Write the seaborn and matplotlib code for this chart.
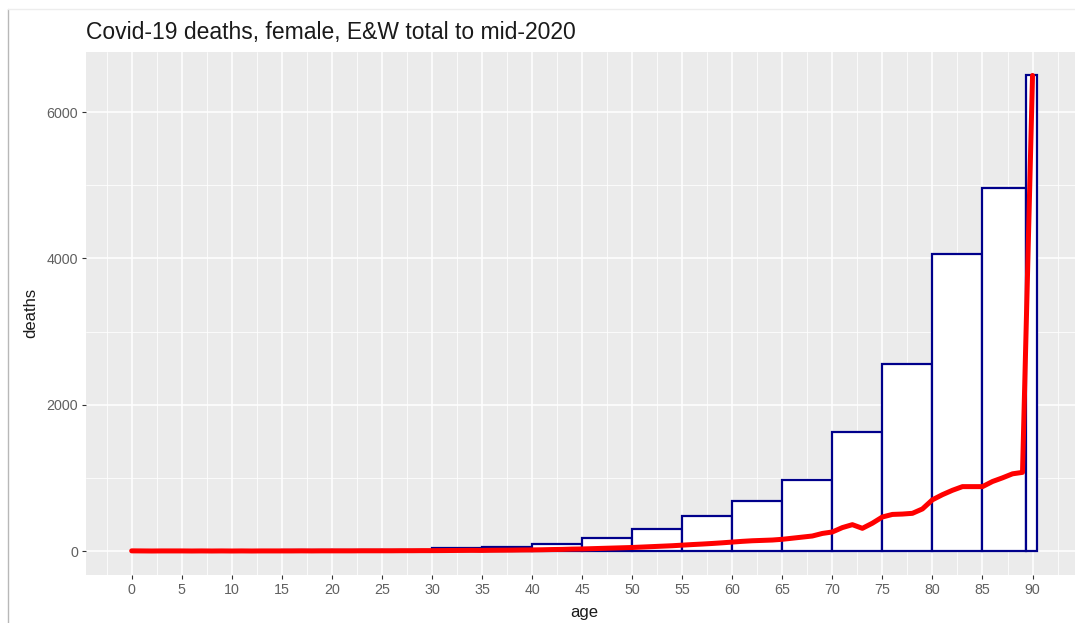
import numpy as np
import pandas as pd
import seaborn as sns
import matplotlib
matplotlib.use("Agg")
import matplotlib.pyplot as plt
from matplotlib.ticker import MultipleLocator
from matplotlib.lines import Line2D

# Covid-19 deaths of females in England & Wales by single year of age (90 = 90+)
ages = list(range(0, 91))
deaths = [
    2, 1, 0, 1, 1,            # 0-4
    1, 0, 1, 0, 1,            # 5-9
    0, 1, 0, 1, 1,            # 10-14
    1, 1, 2, 1, 2,            # 15-19
    2, 2, 2, 3, 3,            # 20-24
    3, 3, 4, 4, 5,            # 25-29
    5, 6, 7, 8, 9,            # 30-34
    8, 10, 11, 12, 14,        # 35-39
    15, 17, 20, 22, 26,       # 40-44
    28, 32, 36, 40, 44,       # 45-49
    48, 54, 60, 66, 72,       # 50-54
    80, 88, 95, 103, 112,     # 55-59
    122, 132, 140, 145, 150,  # 60-64
    160, 175, 190, 205, 240,  # 65-69
    260, 320, 360, 310, 380,  # 70-74
    465, 500, 505, 515, 575,  # 75-79
    700, 770, 830, 880, 880,  # 80-84
    880, 950, 1000, 1055, 1075,  # 85-89
    6500,                     # 90+
]

# Age-group boundaries for the grouped totals
bin_edges = [0, 5, 10, 15, 20, 25, 30, 35, 40, 45, 50, 55, 60, 65, 70, 75,
             80, 85, 89.35, 90.4]

x_ticks = list(range(0, 91, 5))
y_ticks = [0, 2000, 4000, 6000]

df = pd.DataFrame({"age": ages, "deaths": deaths})

sns.set_theme(style="darkgrid", rc={
    "axes.facecolor": "#EBEBEB",
    "grid.color": "white",
    "axes.edgecolor": "none",
})
plt.rcParams["font.family"] = ["Liberation Sans", "DejaVu Sans"]

fig = plt.figure(figsize=(10.75, 6.23), dpi=100)
ax = fig.add_axes([0.0804, 0.0774, 0.9259, 0.8396])

# grouped totals as outlined rectangles
sns.histplot(data=df, x="age", weights="deaths", bins=bin_edges, ax=ax,
             color="white", edgecolor="#00008B", linewidth=1.6, alpha=1)

# single-year-of-age curve
sns.lineplot(data=df, x="age", y="deaths", ax=ax, color="#FF0000",
             linewidth=3.6, zorder=5)

ax.set_xlim(-4.52, 94.92)
ax.set_ylim(-325, 6825)
ax.set_xticks(x_ticks)
ax.set_yticks(y_ticks)
ax.xaxis.set_minor_locator(MultipleLocator(2.5))
ax.yaxis.set_minor_locator(MultipleLocator(1000))
ax.grid(which="major", color="white", linewidth=1.1)
ax.grid(which="minor", color="white", linewidth=0.55)
ax.set_axisbelow(True)
for s in ax.spines.values():
    s.set_visible(False)

ax.tick_params(which="major", length=3, width=0.8, color="#333333",
               labelsize=10.3, labelcolor="#606060", pad=3,
               bottom=True, left=True)
ax.tick_params(which="minor", length=0)

ax.set_xlabel("age", fontsize=12, color="#1A1A1A", labelpad=6)
ax.set_ylabel("deaths", fontsize=12, color="#1A1A1A", labelpad=6)
ax.set_title("Covid-19 deaths, female, E&W total to mid-2020", loc="left",
             fontsize=16.5, color="#1A1A1A", pad=9)

# thin page frame at the left and top
fig.add_artist(Line2D([0.0075, 0.0075], [0.0, 0.986], transform=fig.transFigure,
                      color="#B8B8B8", linewidth=1.0))
fig.add_artist(Line2D([0.0075, 1.0], [0.986, 0.986], transform=fig.transFigure,
                      color="#EDEDED", linewidth=1.0))

fig.savefig("out.png", dpi=100, facecolor="white")
